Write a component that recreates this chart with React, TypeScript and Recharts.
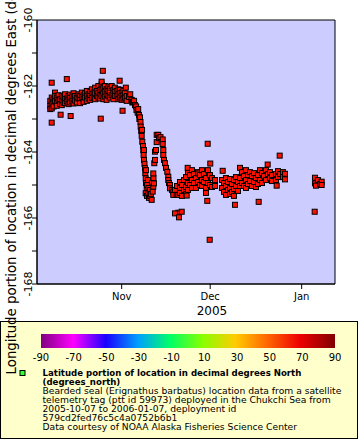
import { CartesianGrid, ReferenceArea, Scatter, ScatterChart, XAxis, YAxis } from "recharts";

const FONT = "'DejaVu Sans', Verdana, sans-serif";
const DAY = 86400000;
// day offsets below are counted from 2005-10-01 00:00 UTC
const T0 = Date.UTC(2005, 9, 1);

const monthTicks = [Date.UTC(2005, 10, 1), Date.UTC(2005, 11, 1), Date.UTC(2006, 0, 1)];
const monthNames = ["Nov", "Dec", "Jan"];
const lonTicks = [-168, -167, -166, -165, -164, -163, -162, -161, -160];
const colorTicks = [-90, -70, -50, -30, -10, 10, 30, 50, 70, 90];

// [day, longitude] fixes
const octFixes: [number, number][] = [
  [6.8, -162.45], [6.8, -162.6], [6.8, -162.7], [7.3, -162.35], [7.3, -162.55], [7.3, -162.68],
  [7.28, -161.9], [7.28, -163.11], [7.9, -162.4], [7.9, -162.5], [7.9, -162.62], [8.4, -162.2],
  [8.4, -162.3], [8.4, -162.45], [9.0, -162.35], [9.0, -162.52], [9.0, -162.6], [9.6, -162.28],
  [9.6, -162.42], [10.1, -162.4], [10.1, -162.55], [10.3, -162.87], [10.7, -162.3], [10.7, -162.45],
  [10.7, -162.58], [11.3, -162.34], [11.3, -162.5], [11.8, -162.25], [11.8, -162.4], [11.8, -162.52],
  [12.4, -162.38], [12.4, -162.47], [12.4, -161.79], [13.0, -162.3], [13.0, -162.42], [13.0, -162.55],
  [13.5, -162.26], [13.5, -162.36], [13.5, -162.5], [13.7, -162.91], [14.1, -162.32], [14.1, -162.45],
  [14.7, -162.22], [14.7, -162.4], [14.7, -162.53], [15.2, -162.3], [15.2, -162.44], [15.8, -162.35],
  [15.8, -162.5], [16.4, -162.25], [16.4, -162.38], [16.9, -162.3], [16.9, -162.42], [16.9, -162.52],
  [17.5, -162.2], [17.5, -162.34], [18.1, -162.28], [18.1, -162.4], [18.1, -162.48], [18.6, -162.22],
  [18.6, -162.35], [19.2, -162.15], [19.2, -162.3], [19.2, -162.45], [19.8, -162.25], [19.8, -162.38],
  [20.3, -162.18], [20.3, -162.3], [20.3, -162.42], [20.9, -162.1], [20.9, -162.25], [20.9, -162.36],
  [21.5, -162.2], [21.5, -162.33], [22.0, -162.05], [22.0, -162.22], [22.0, -162.4], [22.6, -162.15],
  [22.6, -162.3], [23.1, -162.0], [23.1, -162.2], [23.1, -162.35], [23.7, -162.12], [23.7, -162.28],
  [23.7, -162.38], [23.9, -162.99], [24.2, -161.95], [24.2, -162.1], [24.2, -162.3], [24.2, -161.87],
  [24.6, -161.54], [24.8, -162.05], [24.8, -162.22], [24.8, -162.4], [25.3, -162.0], [25.3, -162.18],
  [25.3, -162.32], [25.9, -162.1], [25.9, -162.25], [25.9, -162.42], [26.5, -162.02], [26.5, -162.15],
  [26.5, -162.3], [27.0, -162.08], [27.0, -162.2], [27.0, -162.35], [27.6, -162.0], [27.6, -162.28],
  [28.2, -162.12], [28.2, -162.22], [28.2, -162.4], [28.7, -162.05], [28.7, -162.18], [28.7, -162.3],
  [29.3, -162.15], [29.3, -162.3], [29.9, -162.1], [29.9, -162.25], [29.9, -162.4], [30.3, -161.84],
  [30.4, -162.12], [30.4, -162.22], [30.4, -162.35], [31.0, -162.2], [31.0, -162.3], [31.0, -162.42],
  [31.3, -162.75], [31.6, -162.15], [31.6, -162.28], [31.6, -162.38], [32.1, -162.22], [32.1, -162.35],
  [32.4, -162.05], [32.7, -162.3], [32.7, -162.45],
];

const novFixes: [number, number][] = [
  [33.48, -162.33], [33.9, -162.25], [34.39, -162.42], [34.6, -162.5], [34.83, -162.48], [35.2, -162.45],
  [35.51, -162.58], [35.9, -162.62], [36.02, -162.73], [36.43, -162.81], [36.6, -162.7], [36.87, -162.88],
  [37.0, -163.0], [37.21, -162.95], [37.38, -163.09], [37.44, -163.23], [37.61, -163.36], [37.9, -163.33],
  [37.78, -163.51], [37.99, -163.69], [38.22, -163.82], [38.32, -163.94], [38.56, -163.94], [38.43, -164.09],
  [38.56, -164.24], [38.73, -164.36], [38.9, -164.49], [39.0, -164.64], [39.24, -164.55], [39.14, -164.8],
  [39.24, -164.94], [39.48, -165.1], [39.58, -165.0], [39.92, -164.85], [39.14, -165.25], [39.58, -165.33],
  [40.02, -165.25], [40.09, -165.09], [40.26, -165.39], [40.6, -165.33], [40.6, -165.15], [41.17, -165.45],
  [40.93, -165.27], [41.27, -164.94], [41.51, -165.2], [41.71, -165.05], [41.95, -164.95], [41.78, -164.79],
  [41.71, -164.65], [42.05, -164.34], [42.29, -164.24], [42.29, -163.99], [42.63, -163.94], [42.87, -163.7],
  [42.87, -163.48], [43.41, -163.48], [43.64, -163.58], [44.15, -163.55], [44.9, -163.62], [44.9, -163.76],
  [45.1, -163.94], [45.1, -164.09], [45.34, -164.24], [45.68, -164.34], [46.02, -164.48], [46.46, -164.6],
  [46.8, -164.75], [46.8, -164.85], [47.03, -164.94], [47.37, -165.0], [47.37, -165.1], [48.05, -165.15],
  [48.49, -165.2], [48.49, -165.3], [49.07, -165.15], [49.64, -165.3], [50.19, -165.3], [49.74, -165.03],
  [50.19, -165.84], [49.07, -165.86], [51.34, -165.81], [50.42, -165.98],
];

const decFixes: [number, number][] = [
  [50.76, -164.91], [50.76, -165.09], [50.76, -165.24], [51.44, -165.0], [51.44, -165.33], [52.12, -164.85],
  [52.12, -165.15], [52.8, -164.76], [52.8, -165.06], [52.8, -165.27], [53.47, -164.61], [53.47, -164.94],
  [53.47, -165.15], [53.37, -164.48], [53.03, -165.32], [54.15, -164.7], [54.15, -165.0], [54.83, -164.55],
  [54.83, -164.85], [54.83, -165.09], [55.51, -164.67], [55.51, -164.94], [56.18, -164.79], [56.18, -165.09],
  [56.86, -164.61], [56.86, -164.91], [56.96, -164.65], [57.54, -164.7], [57.54, -165.0], [58.22, -164.55],
  [58.22, -164.85], [58.22, -165.03], [58.89, -164.67], [58.89, -164.91], [59.57, -164.79], [59.57, -165.09],
  [59.57, -165.24], [60.25, -164.55], [60.25, -164.94], [60.15, -163.75], [60.01, -165.48], [60.83, -166.66],
  [60.93, -164.7], [60.93, -165.0], [61.03, -164.35], [61.6, -164.79], [61.6, -165.06], [62.62, -164.85],
  [62.62, -165.03], [64.99, -164.85], [64.99, -165.09], [65.23, -164.57], [65.67, -164.94], [65.67, -165.21],
  [66.35, -164.79], [66.35, -165.03], [66.35, -165.3], [67.03, -164.91], [67.03, -165.15], [67.71, -164.82],
  [67.71, -165.09], [67.71, -165.27], [68.38, -164.97], [68.38, -165.21], [69.06, -164.85], [69.06, -165.12],
  [69.06, -165.33], [69.4, -165.6], [69.74, -164.76], [69.74, -165.03], [70.42, -164.91], [70.42, -165.18],
  [71.1, -164.48], [71.1, -164.79], [71.1, -165.03], [71.77, -164.61], [71.77, -164.94], [72.45, -164.73],
  [72.45, -165.03], [73.13, -164.55], [73.13, -164.85], [73.13, -165.09], [73.81, -164.7], [73.81, -164.97],
  [74.48, -164.61], [74.48, -164.88], [75.16, -164.73], [75.16, -165.03], [75.84, -164.64], [75.84, -164.91],
  [76.52, -164.79], [76.52, -165.06], [77.2, -164.7], [77.2, -164.97], [77.43, -165.51], [77.87, -164.55],
  [77.87, -164.85], [78.55, -164.64], [78.55, -164.94], [79.23, -164.73], [79.91, -164.55], [79.91, -164.85],
  [80.48, -164.38], [80.58, -164.67], [81.26, -164.61], [81.26, -164.79], [81.94, -164.7], [81.94, -164.88],
  [83.29, -164.67], [83.29, -164.85], [83.53, -165.02], [83.97, -164.58], [83.97, -164.76], [84.55, -164.11],
  [84.65, -164.67], [85.67, -164.61], [85.67, -164.76], [86.34, -164.66], [86.34, -164.83],
];

const janFixes: [number, number][] = [
  [96.41, -165.81], [96.51, -164.78], [96.51, -164.95], [96.85, -165.02], [97.53, -164.85], [98.2, -164.97],
  [98.78, -164.9], [98.78, -165.0],
];

const points = [...octFixes, ...novFixes, ...decFixes, ...janFixes].map(([d, lon]) => ({
  t: T0 + d * DAY,
  lon,
}));

const Marker = (props: any) => {
  const { cx, cy } = props;
  if (cx == null || cy == null) return <g />;
  return <rect x={cx - 2.5} y={cy - 2.5} width={5} height={5} fill="#ff1100" stroke="#000" strokeWidth={1} />;
};

const LonTick = (props: any) => {
  const { x, y, payload } = props;
  if (payload.value % 2 !== 0) return <g />;
  const bx = x + 2;
  return (
    <text x={bx} y={y} transform={`rotate(-90 ${bx} ${y})`} textAnchor="middle" fontSize={11} fontFamily={FONT} fill="#000">
      {payload.value}
    </text>
  );
};

const legendLines = [
  "Bearded seal (Erignathus barbatus) location data from a satellite",
  "telemetry tag (ptt id 59973) deployed in the Chukchi Sea from",
  "2005-10-07 to 2006-01-07, deployment id",
  "579cd2fed76c5c4a0752b6b1",
  "Data courtesy of NOAA Alaska Fisheries Science Center",
];

export default function App() {
  const barX = 41;
  const barW = 294;
  return (
    <div style={{ position: "relative", width: 360, height: 440, background: "#fff", fontFamily: FONT, overflow: "hidden" }}>
      <style>{"body{margin:0}"}</style>
      <svg width={360} height={440} style={{ position: "absolute", left: 0, top: 0 }}>
        <defs>
          <linearGradient id="rainbow" x1="0" x2="1" y1="0" y2="0">
            <stop offset="0%" stopColor="#800080" />
            <stop offset="11%" stopColor="#ff00ff" />
            <stop offset="22%" stopColor="#1a00ff" />
            <stop offset="33%" stopColor="#00a0ff" />
            <stop offset="44%" stopColor="#00ff66" />
            <stop offset="55%" stopColor="#88ff00" />
            <stop offset="66%" stopColor="#ffcc00" />
            <stop offset="77%" stopColor="#ff6600" />
            <stop offset="88%" stopColor="#ee0000" />
            <stop offset="100%" stopColor="#800000" />
          </linearGradient>
        </defs>
        <rect x={0.5} y={321.5} width={357} height={117} fill="#ffffcc" stroke="#000" />
        <rect x={barX} y={334} width={barW} height={14} fill="url(#rainbow)" />
        {colorTicks.map((v) => (
          <text key={v} x={barX + ((v + 90) / 180) * barW} y={361} textAnchor="middle" fontSize={10} fill="#000">
            {v}
          </text>
        ))}
        <rect x={20} y={370.5} width={5} height={5} fill="#33ff33" stroke="#000" />
        <text x={42.5} y={376} fontSize={8.6} fontWeight="bold" fill="#000">
          Latitude portion of location in decimal degrees North
        </text>
        <text x={42.5} y={385} fontSize={8.6} fontWeight="bold" fill="#000">
          (degrees_north)
        </text>
        {legendLines.map((line, i) => (
          <text key={i} x={42.5} y={394 + i * 9} fontSize={9.2} fill="#000">
            {line}
          </text>
        ))}
      </svg>
      <div style={{ position: "absolute", left: 0, top: 0 }}>
        <ScatterChart width={360} height={440} margin={{ top: 20, right: 25, bottom: 120, left: 0 }}>
          <CartesianGrid horizontal={false} vertical={false} fill="#ccccff" fillOpacity={1} />
          <XAxis
            dataKey="t"
            type="number"
            domain={[T0 + 2.3 * DAY, T0 + 103.3 * DAY]}
            allowDataOverflow
            ticks={monthTicks}
            tickFormatter={(v: number) => monthNames[monthTicks.indexOf(v)]}
            height={36}
            tickSize={5}
            tickMargin={4}
            tick={{ fill: "#000", fontSize: 10, fontFamily: FONT }}
            tickLine={{ stroke: "#000" }}
            axisLine={{ stroke: "#000" }}
          />
          <YAxis
            dataKey="lon"
            type="number"
            domain={[-168, -160]}
            allowDataOverflow
            ticks={lonTicks}
            interval={0}
            width={37}
            tickSize={5}
            tick={<LonTick />}
            tickLine={{ stroke: "#000" }}
            axisLine={{ stroke: "#000" }}
          />
          <ReferenceArea
            x1={T0 + 2.3 * DAY}
            x2={T0 + 103.3 * DAY}
            y1={-168}
            y2={-160}
            fill="none"
            stroke="#000"
            strokeWidth={1}
          />
          <Scatter data={points} shape={<Marker />} isAnimationActive={false} />
        </ScatterChart>
      </div>
      <svg width={360} height={440} style={{ position: "absolute", left: 0, top: 0, pointerEvents: "none" }}>
        <text x={212} y={315} textAnchor="middle" fontSize={12} fill="#000">
          2005
        </text>
        <text x={16} y={145} transform="rotate(-90 16 145)" textAnchor="middle" fontSize={13.3} fill="#000">
          Longitude portion of location in decimal degrees East (degrees_east)
        </text>
      </svg>
    </div>
  );
}
